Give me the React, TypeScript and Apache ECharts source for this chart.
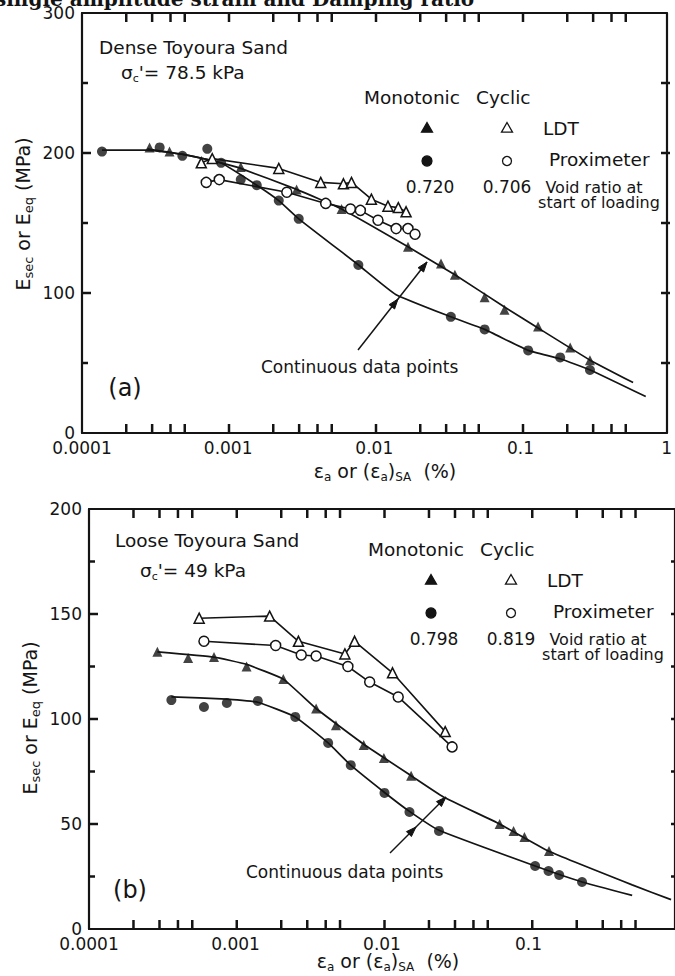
import React, { useEffect, useRef } from "react";
import * as echarts from "echarts";

type Pt = [number, number];

// ---------------- Panel (a): Dense Toyoura Sand (strain %, E MPa) ----------------
const aMonoProxCurve: Pt[] = [
  [1.37e-4, 202], [2.8e-4, 202], [4.9e-4, 199], [8.9e-4, 193], [1.57e-3, 177], [2.22e-3, 166],
  [3.04e-3, 153], [7.8e-3, 120], [1.4e-2, 99], [3.34e-2, 83], [5.69e-2, 74], [0.113, 59],
  [0.187, 53], [0.3, 45], [0.72, 26],
];
const aMonoLdtCurve: Pt[] = [
  [2.8e-4, 203], [4.9e-4, 199], [8.9e-4, 193], [1.22e-3, 189], [2.94e-3, 174], [5.97e-3, 160],
  [1.7e-2, 133], [3.56e-2, 113], [7.78e-2, 90], [0.132, 75], [0.3, 52], [0.59, 36],
];
const aMonoLdtPoints: Pt[] = [
  [2.9e-4, 204], [3.97e-4, 201], [1.22e-3, 190], [2.94e-3, 174], [5.97e-3, 160], [1.7e-2, 133],
  [2.86e-2, 121], [3.56e-2, 113], [5.69e-2, 97], [7.78e-2, 88], [0.132, 76], [0.219, 61], [0.299, 52],
];
const aMonoProxPoints: Pt[] = [
  [1.37e-4, 201], [3.4e-4, 204], [4.86e-4, 198], [7.2e-4, 203], [8.95e-4, 193], [1.22e-3, 181],
  [1.57e-3, 177], [2.22e-3, 166], [3.04e-3, 153], [7.78e-3, 120], [3.34e-2, 83], [5.69e-2, 74],
  [0.113, 59], [0.187, 54], [0.299, 45],
];
const aCyclicLdt: Pt[] = [
  [6.55e-4, 193], [7.78e-4, 196], [2.22e-3, 189], [4.3e-3, 179], [6.15e-3, 178], [6.98e-3, 179],
  [9.55e-3, 167], [1.24e-2, 162], [1.46e-2, 161], [1.65e-2, 158],
];
const aCyclicProx: Pt[] = [
  [7.08e-4, 179], [8.69e-4, 181], [2.52e-3, 172], [4.65e-3, 164], [6.87e-3, 160], [8.03e-3, 159],
  [1.06e-2, 152], [1.41e-2, 146], [1.7e-2, 146], [1.9e-2, 142],
];

// ---------------- Panel (b): Loose Toyoura Sand ----------------
const bMonoLdtCurve: Pt[] = [
  [2.93e-4, 132], [7.13e-4, 129.5], [1.19e-3, 126], [2.12e-3, 119], [3.55e-3, 105], [7.5e-3, 88],
  [1.58e-2, 73], [2.61e-2, 63], [6.35e-2, 50], [0.138, 37], [0.51, 21], [0.94, 14],
];
const bMonoProxCurve: Pt[] = [
  [3.65e-4, 110.5], [8.7e-4, 109.5], [1.42e-3, 108], [2.56e-3, 101], [4.29e-3, 88.6], [6.12e-3, 78],
  [1.04e-2, 65], [1.54e-2, 56], [2.45e-2, 47], [0.111, 30], [0.232, 22.4], [0.51, 16],
];
const bMonoLdtPoints: Pt[] = [
  [2.93e-4, 132], [4.75e-4, 129], [7.13e-4, 129.5], [1.19e-3, 125], [2.12e-3, 119], [3.55e-3, 105],
  [4.85e-3, 97], [7.5e-3, 87.6], [1.03e-2, 81.4], [1.58e-2, 73], [6.35e-2, 50], [7.91e-2, 46.7],
  [9.38e-2, 43.8], [0.138, 37.1],
];
const bMonoProxPoints: Pt[] = [
  [3.65e-4, 109], [6.09e-4, 105.7], [8.73e-4, 107.6], [1.42e-3, 108.6], [2.56e-3, 101], [4.29e-3, 88.6],
  [6.12e-3, 78], [1.04e-2, 64.8], [1.54e-2, 55.7], [2.45e-2, 46.7], [0.111, 30], [0.137, 27.6],
  [0.162, 25.7], [0.232, 22.4],
];
const bCyclicLdt: Pt[] = [
  [5.65e-4, 148], [1.71e-3, 149], [2.69e-3, 137], [5.58e-3, 131], [6.5e-3, 137], [1.18e-2, 122], [2.7e-2, 94],
];
const bCyclicProx: Pt[] = [
  [6.09e-4, 137], [1.88e-3, 135], [2.81e-3, 130.5], [3.55e-3, 130], [5.85e-3, 125], [8.24e-3, 117.6],
  [1.29e-2, 110.5], [3.01e-2, 86.7],
];

// ---------------- Axis labels / ticks ----------------
const xLabelsA = ["0.0001", "0.001", "0.01", "0.1", "1"];
const xLabelsB = ["0.0001", "0.001", "0.01", "0.1"];
const xDecades = [-4, -3, -2, -1, 0];
const xTickMultipliers = [1, 2, 3, 4, 5];
const yTicksA = [50, 100, 150, 200, 250];
const yMajorA = [100, 200];
const yTicksB = [25, 50, 75, 100, 125, 150, 175];
const yMajorB = [50, 100, 150];
const voidA = ["0.720", "0.706"];
const voidB = ["0.798", "0.819"];

const INK = "#141414";
const FONT = '"DejaVu Sans", Verdana, sans-serif';

// grid boxes (layout)
const GRID_A = { left: 82, top: 13, width: 588, height: 420 };
const GRID_B = { left: 89, top: 509, width: 591, height: 420 };

const lg = (d: Pt[]) => d.map(([x, y]) => [Math.log10(x), y]);

function xTickValues(): number[] {
  const out: number[] = [];
  for (const e of [-4, -3, -2, -1]) for (const m of xTickMultipliers) out.push(e + Math.log10(m));
  return out.filter((v) => v > -4);
}

const axisLine = { show: true, onZero: false, lineStyle: { color: INK, width: 2.2 } };

function xPair(grid: number, labels: string[]) {
  const base: any = {
    type: "value", gridIndex: grid, min: -4, max: 0, interval: 1,
    splitLine: { show: false }, axisLine, axisTick: { show: false },
  };
  return [
    {
      ...base, position: "bottom",
      axisLabel: {
        show: true, customValues: xDecades.slice(0, labels.length),
        formatter: (v: number) => labels[Math.round(v) + 4] ?? "",
        color: INK, fontFamily: FONT, fontSize: 17, margin: 6,
      },
    },
    { ...base, position: "top", axisLabel: { show: false } },
  ];
}

function yPair(grid: number, max: number, major: number) {
  return [
    {
      type: "value", gridIndex: grid, position: "left", min: 0, max, interval: major,
      splitLine: { show: false }, axisLine, axisTick: { show: false },
      axisLabel: { color: INK, fontFamily: FONT, fontSize: 17, margin: 7 },
    },
    {
      type: "value", gridIndex: grid, position: "right", min: 0, max, interval: major,
      splitLine: { show: false }, axisLine, axisTick: { show: false }, axisLabel: { show: false },
    },
  ];
}

function curve(data: Pt[], xi: number, yi: number) {
  return {
    type: "line", xAxisIndex: xi, yAxisIndex: yi, data: lg(data), symbol: "none", showSymbol: false,
    smooth: 0.12, lineStyle: { color: INK, width: 1.7 }, z: 2, silent: true,
  };
}
function cyclic(data: Pt[], xi: number, yi: number, sym: string) {
  return {
    type: "line", xAxisIndex: xi, yAxisIndex: yi, data: lg(data), symbol: sym, showSymbol: true,
    showAllSymbol: true, symbolSize: 10,
    itemStyle: { color: "#fff", borderColor: INK, borderWidth: 1.5 },
    lineStyle: { color: INK, width: 1.6 }, z: 3, silent: true,
  };
}
function points(data: Pt[], xi: number, yi: number, sym: string) {
  return {
    type: "scatter", xAxisIndex: xi, yAxisIndex: yi, data: lg(data), symbol: sym,
    symbolSize: 10, itemStyle: { color: INK }, z: 4, silent: true,
  };
}

// ---------------- graphic helpers ----------------
const T = (x: number, y: number, text: string, size = 18.5, align = "left") => ({
  type: "text", x, y,
  style: { text, fill: INK, fontFamily: FONT, fontSize: size, align, verticalAlign: "middle" },
});
const R = (x: number, y: number, text: string, rich: any, align = "left", rotation = 0) => ({
  type: "text", x, y, rotation,
  style: { text, fill: INK, fontFamily: FONT, fontSize: 18, align, verticalAlign: "middle", rich },
});
const richBase = (main: number, sub: number) => ({
  m: { fontSize: main, fontFamily: FONT, fill: INK, lineHeight: 24 },
  s: { fontSize: sub, fontFamily: FONT, fill: INK, lineHeight: 14, verticalAlign: "bottom" },
});
const tri = (cx: number, cy: number, r: number, filled: boolean) => ({
  type: "polygon",
  shape: { points: [[cx, cy - r], [cx + r, cy + r * 0.75], [cx - r, cy + r * 0.75]] },
  style: { fill: filled ? INK : "#fff", stroke: INK, lineWidth: 1.3 },
});
const dot = (cx: number, cy: number, r: number, filled: boolean) => ({
  type: "circle", shape: { cx, cy, r },
  style: { fill: filled ? INK : "#fff", stroke: INK, lineWidth: 1.3 },
});
const seg = (x1: number, y1: number, x2: number, y2: number, w = 1.5) => ({
  type: "line", shape: { x1, y1, x2, y2 }, style: { stroke: INK, lineWidth: w },
});
// a tick drawn as a small filled bar (x, y = top-left corner)
const bar = (x: number, y: number, w: number, h: number) => ({
  type: "rect", shape: { x, y, width: w, height: h }, style: { fill: INK }, z: 50,
});
function arrow(x1: number, y1: number, x2: number, y2: number, midT: number) {
  const dx = x2 - x1, dy = y2 - y1;
  const len = Math.hypot(dx, dy);
  const ux = dx / len, uy = dy / len;
  const head = (tx: number, ty: number) => ({
    type: "polygon",
    shape: {
      points: [
        [tx, ty],
        [tx - ux * 10 - uy * 3.5, ty - uy * 10 + ux * 3.5],
        [tx - ux * 10 + uy * 3.5, ty - uy * 10 - ux * 3.5],
      ],
    },
    style: { fill: INK, stroke: INK, lineWidth: 1 },
  });
  return [seg(x1, y1, x2, y2), head(x2, y2), head(x1 + dx * midT, y1 + dy * midT)];
}

// frame tick marks of one panel (log decades on x: 1..5 per decade; y every step)
function frameTicks(g: typeof GRID_A, ymax: number, yTicks: number[], yMajor: number[]) {
  const out: any[] = [];
  const bottom = g.top + g.height;
  const right = g.left + g.width;
  for (const v of xTickValues()) {
    const x = g.left + ((v + 4) / 4) * g.width;
    out.push(bar(x - 1.25, bottom - 9, 2.5, 9));
    out.push(bar(x - 1.25, g.top, 2.5, 9));
  }
  for (const t of yTicks) {
    const y = bottom - (t / ymax) * g.height;
    const len = yMajor.includes(t) ? 9 : 6;
    out.push(bar(g.left, y - 1.25, len, 2.5));
    out.push(bar(right - 9, y - 1.25, 9, 2.5));
  }
  return out;
}

function legendBlock(top: number, voids: string[], dx: number) {
  const y1 = top, y2 = top + 32, y3 = top + 59;
  return [
    T(364 + dx, top - 31, "Monotonic", 18.5),
    T(476 + dx, top - 31, "Cyclic", 18.5),
    tri(427 + dx, y1, 5.5, true),
    tri(507 + dx, y1, 5.5, false),
    T(543 + dx, y1, "LDT", 18.5),
    dot(427 + dx, y2 + 1, 5, true),
    dot(507 + dx, y2 + 1, 4.5, false),
    T(549 + dx, y2 - 1, "Proximeter", 18.5),
    T(430 + dx, y3, voids[0], 17, "center"),
    T(507 + dx, y3, voids[1], 17, "center"),
    T(594 + dx, y3, "Void ratio at", 16, "center"),
    T(599 + dx, y3 + 15, "start of loading", 16, "center"),
  ];
}

function baseGraphic(): any[] {
  const yTitle = "{m|E}{s|sec}{m| or E}{s|eq}{m| (MPa)}";
  const xTitle = "{m|ε}{s|a}{m| or (ε}{s|a}{m|)}{s|SA}{m|  (%)}";
  return [
    {
      type: "text", x: -5, y: 9,
      style: {
        text: "single amplitude strain and Damping ratio", fill: INK,
        fontFamily: '"DejaVu Serif", serif', fontWeight: "bold", fontSize: 20,
        align: "left", verticalAlign: "bottom",
      },
    },
    ...frameTicks(GRID_A, 300, yTicksA, yMajorA),
    ...frameTicks(GRID_B, 200, yTicksB, yMajorB),
    // panel (a)
    T(99, 47, "Dense Toyoura Sand", 18.5),
    R(121, 72, "{m|σ}{s|c}{m|'= 78.5 kPa}", richBase(18.5, 11)),
    ...legendBlock(128, voidA, 0),
    T(261, 367, "Continuous data points", 17),
    T(125, 388, "(a)", 24, "center"),
    R(385, 471, xTitle, richBase(19, 12), "center"),
    R(23, 214, yTitle, richBase(19, 13), "center", Math.PI / 2),
    ...arrow(358, 350, 427, 262, 0.58),
    // panel (b)
    T(115, 540, "Loose Toyoura Sand", 18.5),
    R(140, 570, "{m|σ}{s|c}{m|'= 49 kPa}", richBase(18.5, 11)),
    ...legendBlock(580, voidB, 4),
    T(246, 872, "Continuous data points", 17),
    T(130, 890, "(b)", 24, "center"),
    R(388, 961, xTitle, richBase(19, 12), "center"),
    R(30, 718, yTitle, richBase(19, 13), "center", Math.PI / 2),
    ...arrow(390, 853, 446, 797, 0.464),
  ];
}

function buildOption(): any {
  return {
    animation: false,
    backgroundColor: "#ffffff",
    grid: [GRID_A, GRID_B],
    xAxis: [...xPair(0, xLabelsA), ...xPair(1, xLabelsB)],
    yAxis: [...yPair(0, 300, 100), ...yPair(1, 200, 50)],
    series: [
      curve(aMonoProxCurve, 0, 0),
      curve(aMonoLdtCurve, 0, 0),
      cyclic(aCyclicLdt, 0, 0, "triangle"),
      cyclic(aCyclicProx, 0, 0, "circle"),
      points(aMonoLdtPoints, 0, 0, "triangle"),
      points(aMonoProxPoints, 0, 0, "circle"),
      curve(bMonoProxCurve, 2, 2),
      curve(bMonoLdtCurve, 2, 2),
      cyclic(bCyclicLdt, 2, 2, "triangle"),
      cyclic(bCyclicProx, 2, 2, "circle"),
      points(bMonoLdtPoints, 2, 2, "triangle"),
      points(bMonoProxPoints, 2, 2, "circle"),
    ],
    graphic: baseGraphic(),
  };
}

export default function App() {
  const ref = useRef<HTMLDivElement>(null);
  useEffect(() => {
    if (!ref.current) return;
    const chart = echarts.init(ref.current, null, { renderer: "svg" });
    chart.setOption(buildOption());
    return () => chart.dispose();
  }, []);
  return (
    <div
      ref={ref}
      style={{ position: "absolute", left: 0, top: 0, width: 675, height: 976, background: "#fff" }}
    />
  );
}
